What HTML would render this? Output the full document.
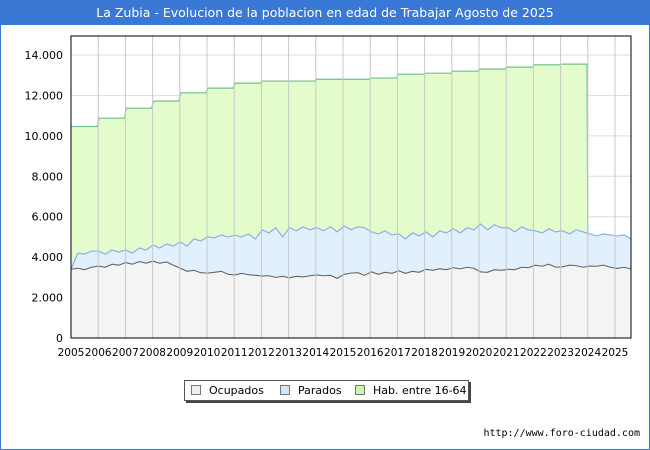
<!DOCTYPE html>
<html><head><meta charset="utf-8"><style>
body{margin:0;background:#fff;font-family:"DejaVu Sans","Liberation Sans",sans-serif;}
#wrap{position:relative;width:648px;height:448px;border:1px solid #3a78d6;overflow:hidden;background:#fff}
#title{position:absolute;left:0;top:0;width:648px;height:24px;background:#3a78d6;color:#fff;font-size:12.5px;line-height:24px;text-align:center}
#legend{position:absolute;left:183px;top:379px;width:283px;height:19px;border:1px solid #555;background:#fff;box-shadow:2px 2px 0 #444;font-size:11px;line-height:19px}
.li{position:absolute;top:0}
.sw{display:inline-block;width:8px;height:8px;border:1px solid #777;margin-right:8px;vertical-align:-1px}
#url{position:absolute;right:9px;top:427px;font-size:10px;font-family:"DejaVu Sans Mono","Liberation Mono",monospace;color:#000}
</style></head><body>
<div id="wrap">
<div id="title">La Zubia - Evolucion de la poblacion en edad de Trabajar Agosto de 2025</div>
<svg id="chart" width="648" height="448" style="position:absolute;left:0;top:0"></svg>
<div id="legend">
<span class="li" style="left:6px"><span class="sw" style="background:#eeeeee"></span>Ocupados</span>
<span class="li" style="left:95px"><span class="sw" style="background:#cfe6fb"></span>Parados</span>
<span class="li" style="left:170px"><span class="sw" style="background:#ccf5a8"></span>Hab. entre 16-64</span>
</div>
<div id="url">http://www.foro-ciudad.com</div>
</div>
<script>
const years=[2005,2006,2007,2008,2009,2010,2011,2012,2013,2014,2015,2016,2017,2018,2019,2020,2021,2022,2023,2024,2025];
const yTicks=[0,2000,4000,6000,8000,10000,12000,14000];
const yTickLabels=["0","2.000","4.000","6.000","8.000","10.000","12.000","14.000"];
const habYears=[2005,2006,2007,2008,2009,2010,2011,2012,2013,2014,2015,2016,2017,2018,2019,2020,2021,2022,2023];
const habValues=[10460,10875,11370,11720,12130,12360,12610,12710,12710,12800,12800,12860,13050,13100,13200,13300,13400,13510,13550];
const ocupados=[3400,3450,3380,3500, 3560,3500,3650,3600, 3730,3650,3780,3700, 3800,3700,3760,3600, 3450,3300,3350,3230, 3210,3250,3300,3150, 3120,3200,3130,3100, 3070,3080,3000,3050, 2980,3050,3020,3080, 3120,3080,3100,2950, 3150,3210,3230,3100, 3270,3150,3250,3200, 3320,3200,3300,3250, 3400,3350,3420,3380, 3480,3420,3500,3450, 3270,3250,3380,3350, 3400,3380,3500,3480, 3600,3550,3650,3500, 3520,3600,3580,3500, 3560,3550,3600,3500, 3440,3500,3420];
const parados=[0,750,770,800, 740,650,700,650, 620,550,670,650, 800,750,890,950, 1300,1250,1550,1570, 1800,1700,1800,1850, 1960,1800,2020,1800, 2280,2120,2450,1950, 2480,2250,2480,2270, 2340,2220,2400,2300, 2390,2140,2270,2350, 1980,2000,2050,1900, 1830,1700,1900,1800, 1850,1650,1880,1820, 1920,1780,1950,1900, 2370,2100,2220,2100, 2060,1870,2000,1870, 1700,1650,1750,1750, 1780,1550,1770,1750, 1590,1500,1550,1600, 1610,1600,1480];
const startT=2005, endT=2025+7/12;

const L=70,R=630,T=35,B=337;
const x=t=>L+(t-2005)*27.2;
const y=v=>B-v*(B-54)/14000;
const svg=document.getElementById('chart');
const NS='http://www.w3.org/2000/svg';
function mk(tag,attrs){const e=document.createElementNS(NS,tag);for(const k in attrs)e.setAttribute(k,attrs[k]);svg.appendChild(e);return e;}
const n=ocupados.length;
const tOf=i=>startT+i*(endT-startT)/(n-1);
const total=ocupados.map((v,i)=>v+parados[i]);

yTicks.forEach((v,i)=>{
 const g=mk('line',{x1:L,x2:R,y1:y(v),y2:y(v),stroke:'#dddddd','stroke-width':1});
 
 
 const tx=mk('text',{x:62,y:y(v)+4,'text-anchor':'end','font-size':11,fill:'#000'});
 tx.textContent=yTickLabels[i];
 
 
});
let hp=[];
habYears.forEach((yr,i)=>{hp.push([x(yr+(i?0.03:0)),y(habValues[i])]);hp.push([x(yr+0.97),y(habValues[i])]);});
const lastHab=habYears[habYears.length-1]+1;
const iCut=Math.round((lastHab-startT)/(endT-startT)*(n-1));
hp.push([x(lastHab),y(total[iCut])]);
const habArea=mk('path',{d:'M'+x(2005)+','+B+' L'+hp.map(p=>p.join(',')).join(' L')+' L'+x(lastHab)+','+B+' Z',fill:'#e4fccc'});


const habLine=mk('path',{d:'M'+hp.map(p=>p.join(',')).join(' L'),fill:'none',stroke:'#6fbf8c','stroke-width':1.2});


const tp=total.map((v,i)=>[x(tOf(i)),y(v)]);
const tA=mk('path',{d:'M'+x(startT)+','+B+' L'+tp.map(p=>p.join(',')).join(' L')+' L'+x(endT)+','+B+' Z',fill:'#e2f0fd'});


const tL=mk('path',{d:'M'+tp.map(p=>p.join(',')).join(' L'),fill:'none',stroke:'#8ab0e6','stroke-width':1.2});


const op=ocupados.map((v,i)=>[x(tOf(i)),y(v)]);
const oA=mk('path',{d:'M'+x(startT)+','+B+' L'+op.map(p=>p.join(',')).join(' L')+' L'+x(endT)+','+B+' Z',fill:'#f4f4f4'});


const oL=mk('path',{d:'M'+op.map(p=>p.join(',')).join(' L'),fill:'none',stroke:'#666','stroke-width':1.1});


years.forEach(yr=>{
 if(yr>2005){const g=mk('line',{x1:x(yr),x2:x(yr),y1:T,y2:B,stroke:'#c8c8c8','stroke-width':1});
 
 }
 const tx=mk('text',{x:x(yr),y:355,'text-anchor':'middle','font-size':10.5,fill:'#000'});
 tx.textContent=yr;
 
 
});
const fr=mk('rect',{x:L,y:T,width:R-L,height:B-T,fill:'none',stroke:'#000','stroke-width':1});


</script>
</body></html>
